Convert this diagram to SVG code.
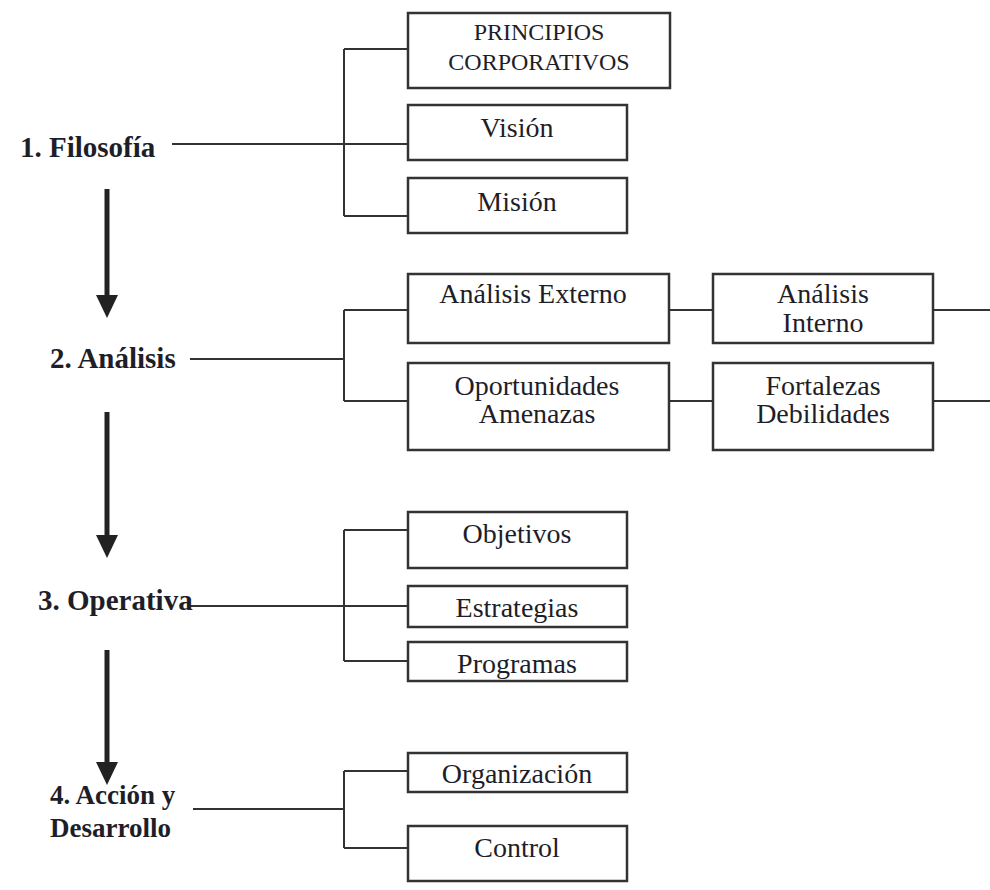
<svg xmlns="http://www.w3.org/2000/svg" width="990" height="890" viewBox="0 0 990 890">
<style>
.box{fill:#fff;stroke:#333;stroke-width:2.5}
.t{font-family:"Liberation Serif","Times New Roman","DejaVu Serif",serif;font-size:28px;fill:#1e1e28;text-anchor:middle}
.cap{font-size:24px}
.lbl{font-family:"Liberation Serif","Times New Roman","DejaVu Serif",serif;font-size:29px;font-weight:bold;fill:#1e1e28}
.lbl2{font-size:27px}
.c{fill:none;stroke:#333;stroke-width:2}
.arr{stroke:#222;stroke-width:5;fill:none}
.ah{fill:#222}
</style>
<rect width="990" height="890" fill="#fff"/>
<g id="connectors">
<path class="c" d="M172 144H408M344 49V216M344 49H408M344 216H408"/>
<path class="c" d="M190 359H344M344 310V401M344 310H408M344 401H408M668 310H713M668 401H713M933 310H990M933 401H990"/>
<path class="c" d="M190 606H408M344 530V661M344 530H408M344 661H408"/>
<path class="c" d="M193 809H344M344 771V848M344 771H408M344 848H408"/>
<path class="arr" d="M107 189V297"/><polygon class="ah" points="96,295 118,295 107,318"/>
<path class="arr" d="M107 412V537"/><polygon class="ah" points="96,535 118,535 107,558"/>
<path class="arr" d="M107 650V764"/><polygon class="ah" points="96,762 118,762 107,785"/>
</g>
<g id="filosofia"><text class="lbl" x="20" y="157">1. Filosofía</text></g>
<g id="analisis"><text class="lbl" x="50" y="368">2. Análisis</text></g>
<g id="operativa"><text class="lbl" x="38" y="610">3. Operativa</text></g>
<g id="accion"><text class="lbl lbl2" x="50" y="804">4. Acción y</text><text class="lbl lbl2" x="50" y="837">Desarrollo</text></g>
<g id="principios"><rect class="box" x="408" y="13" width="262" height="75"/><text class="t cap" x="539" y="40">PRINCIPIOS</text><text class="t cap" x="539" y="70">CORPORATIVOS</text></g>
<g id="vision"><rect class="box" x="408" y="105" width="219" height="55"/><text class="t" x="517" y="137">Visión</text></g>
<g id="mision"><rect class="box" x="408" y="178" width="219" height="55"/><text class="t" x="517" y="211">Misión</text></g>
<g id="externo"><rect class="box" x="408" y="274" width="261" height="69"/><text class="t" x="533" y="303">Análisis Externo</text></g>
<g id="interno"><rect class="box" x="713" y="274" width="220" height="69"/><text class="t" x="823" y="303">Análisis</text><text class="t" x="823" y="332">Interno</text></g>
<g id="oportunidades"><rect class="box" x="408" y="363" width="261" height="87"/><text class="t" x="537" y="395">Oportunidades</text><text class="t" x="537" y="423">Amenazas</text></g>
<g id="fortalezas"><rect class="box" x="713" y="363" width="220" height="87"/><text class="t" x="823" y="395">Fortalezas</text><text class="t" x="823" y="423">Debilidades</text></g>
<g id="objetivos"><rect class="box" x="408" y="512" width="219" height="56"/><text class="t" x="517" y="543">Objetivos</text></g>
<g id="estrategias"><rect class="box" x="408" y="586" width="219" height="41"/><text class="t" x="517" y="617">Estrategias</text></g>
<g id="programas"><rect class="box" x="408" y="642" width="219" height="39"/><text class="t" x="517" y="673">Programas</text></g>
<g id="organizacion"><rect class="box" x="408" y="753" width="219" height="39"/><text class="t" x="517" y="783">Organización</text></g>
<g id="control"><rect class="box" x="408" y="826" width="219" height="55"/><text class="t" x="517" y="857">Control</text></g>
</svg>
